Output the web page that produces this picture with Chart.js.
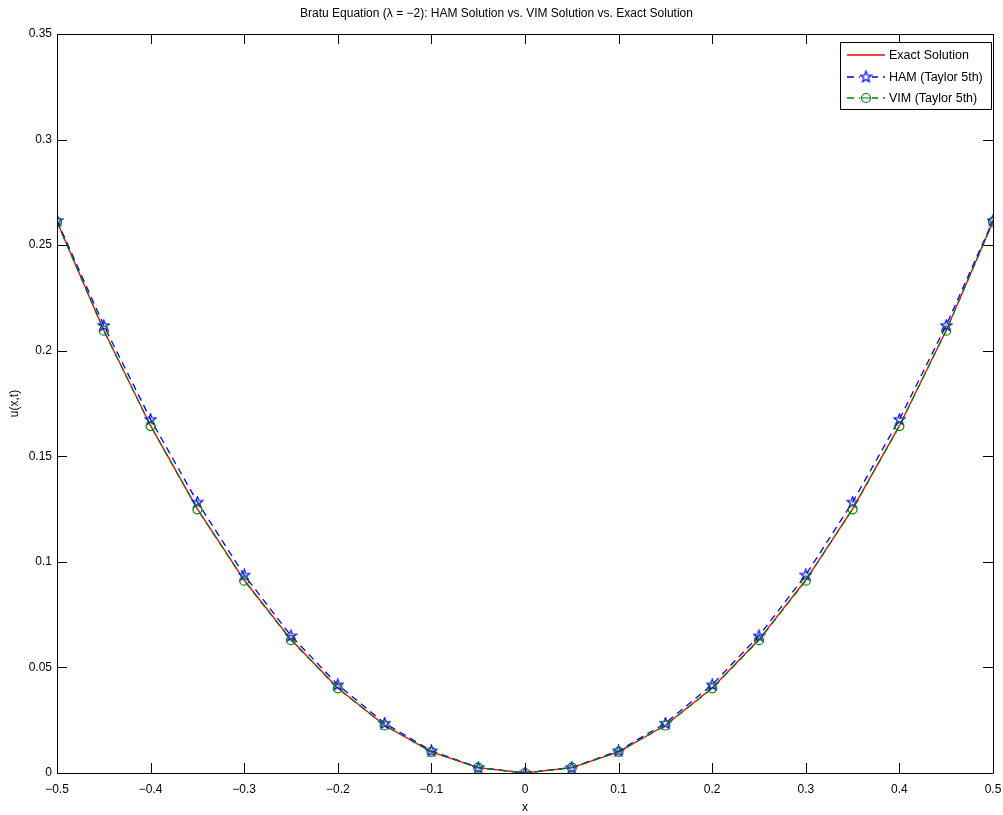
<!DOCTYPE html>
<html>
<head>
<meta charset="utf-8">
<script src="https://cdn.jsdelivr.net/npm/chart.js@4.4.1/dist/chart.umd.min.js"></script>
<style>
  html, body { margin: 0; padding: 0; background: #fff; }
  #wrap { width: 1003px; height: 815px; }
</style>
</head>
<body>
<div id="wrap"><canvas id="myChart" width="1003" height="815"></canvas></div>
<script>
var xs = [-0.5, -0.45, -0.4, -0.35, -0.3, -0.25, -0.2, -0.15, -0.1, -0.05, 0,
          0.05, 0.1, 0.15, 0.2, 0.25, 0.3, 0.35, 0.4, 0.45, 0.5];
var exactU = [0.2612, 0.2097, 0.1645, 0.1251, 0.0914, 0.0632, 0.0403, 0.0226, 0.0100, 0.0025, 0,
              0.0025, 0.0100, 0.0226, 0.0403, 0.0632, 0.0914, 0.1251, 0.1645, 0.2097, 0.2612];
var hamU = [0.2617, 0.2120, 0.1675, 0.1283, 0.0938, 0.0650, 0.0418, 0.0236, 0.0105, 0.0026, 0,
            0.0026, 0.0105, 0.0236, 0.0418, 0.0650, 0.0938, 0.1283, 0.1675, 0.2120, 0.2617];
var vimU = [0.2610, 0.2095, 0.1643, 0.1249, 0.0911, 0.0629, 0.0401, 0.0225, 0.0100, 0.0025, 0,
            0.0025, 0.0100, 0.0225, 0.0401, 0.0629, 0.0911, 0.1249, 0.1643, 0.2095, 0.2610];
var xTicks = [-0.5, -0.4, -0.3, -0.2, -0.1, 0, 0.1, 0.2, 0.3, 0.4, 0.5];
var yTicks = [0, 0.05, 0.1, 0.15, 0.2, 0.25, 0.3, 0.35];
var seriesNames = ['Exact Solution', 'HAM (Taylor 5th)', 'VIM (Taylor 5th)'];
var seriesColors = ['#ff0000', '#0000ff', '#008000'];

var FONT = '"Liberation Sans", Arial, Helvetica, sans-serif';
var LW = 1.3;

// pentagram marker like matlab 'p'
function makeStar(color) {
    var c = document.createElement('canvas');
    c.width = 13; c.height = 13;
    var g = c.getContext('2d');
    g.strokeStyle = color;
    g.lineWidth = 1.2;
    g.beginPath();
    for (var i = 0; i < 10; i++) {
        var r = i % 2 == 0 ? 5.8 : 2.4;
        var a = -Math.PI / 2 + i * Math.PI / 5;
        var px = 6.5 + r * Math.cos(a), py = 6.8 + r * Math.sin(a);
        if (i == 0) g.moveTo(px, py); else g.lineTo(px, py);
    }
    g.closePath();
    g.stroke();
    return c;
}
var starImg = makeStar('#0000ff');

function pts(ys) {
    return xs.map(function (x, i) { return { x: x, y: ys[i] }; });
}

function fmt(v) {
    var s = String(Math.round(v * 100) / 100);
    if (v < 0) s = '\u2212' + s.slice(1);
    return s;
}

var boxPlugin = {
    id: 'box',
    afterDatasetsDraw: function (chart) {
        var ctx = chart.ctx, a = chart.chartArea;
        var xs_ = chart.scales.x, ys_ = chart.scales.y;
        ctx.save();
        ctx.strokeStyle = '#000';
        ctx.lineWidth = 1;
        ctx.setLineDash([]);
        ctx.beginPath();
        ctx.rect(Math.round(a.left) + 0.5, Math.round(a.top) + 0.5,
                 Math.round(a.right - a.left), Math.round(a.bottom - a.top));
        ctx.stroke();
        var tl = 10;
        ctx.beginPath();
        xTicks.forEach(function (t) {
            var px = Math.round(xs_.getPixelForValue(t)) + 0.5;
            ctx.moveTo(px, a.bottom); ctx.lineTo(px, a.bottom - tl);
            ctx.moveTo(px, a.top); ctx.lineTo(px, a.top + tl);
        });
        yTicks.forEach(function (t) {
            var py = Math.round(ys_.getPixelForValue(t)) + 0.5;
            ctx.moveTo(a.left, py); ctx.lineTo(a.left + tl, py);
            ctx.moveTo(a.right, py); ctx.lineTo(a.right - tl, py);
        });
        ctx.stroke();
        ctx.restore();
    },
    afterDraw: function (chart) {
        // legend box in the top right corner
        var ctx = chart.ctx, a = chart.chartArea;
        var bx = Math.round(a.right) - 153, by = Math.round(a.top) + 8, bw = 151, bh = 67;
        ctx.save();
        ctx.setLineDash([]);
        ctx.fillStyle = '#fff';
        ctx.fillRect(bx, by, bw, bh);
        ctx.strokeStyle = '#000';
        ctx.lineWidth = 1;
        ctx.strokeRect(bx + 0.5, by + 0.5, bw, bh);
        ctx.font = '12.5px ' + FONT;
        ctx.textBaseline = 'middle';
        seriesNames.forEach(function (name, i) {
            var cy = Math.round(by + 13 + i * 21.5);
            ctx.strokeStyle = seriesColors[i];
            ctx.lineWidth = 1.6;
            ctx.setLineDash(i == 0 ? [] : [7, 5]);
            ctx.beginPath();
            ctx.moveTo(bx + 7, cy);
            ctx.lineTo(bx + 45, cy);
            ctx.stroke();
            ctx.setLineDash([]);
            if (i == 1) {
                ctx.fillStyle = '#fff';
                ctx.fillRect(bx + 20, cy - 6, 12, 12);
                ctx.drawImage(starImg, bx + 26 - 6.5, cy - 6.8);
            } else if (i == 2) {
                ctx.fillStyle = '#fff';
                ctx.fillRect(bx + 20, cy - 6, 12, 12);
                ctx.lineWidth = 1.2;
                ctx.beginPath();
                ctx.moveTo(bx + 21.5, cy); ctx.lineTo(bx + 30.5, cy);
                ctx.moveTo(bx + 30.5, cy);
                ctx.arc(bx + 26, cy, 4.5, 0, Math.PI * 2);
                ctx.stroke();
            }
            ctx.fillStyle = '#000';
            ctx.fillText(name, bx + 49, cy + 0.5);
        });
        ctx.restore();
    }
};

var ctx = document.getElementById('myChart').getContext('2d');
var chart = new Chart(ctx, {
    type: 'line',
    data: {
        datasets: [{
            label: seriesNames[0],
            data: pts(exactU),
            borderColor: seriesColors[0],
            borderWidth: LW,
            pointRadius: 0,
            order: 2
        }, {
            label: seriesNames[1],
            data: pts(hamU),
            borderColor: seriesColors[1],
            borderWidth: LW,
            borderDash: [7, 5],
            pointStyle: starImg,
            pointRadius: 6,
            order: 1
        }, {
            label: seriesNames[2],
            data: pts(vimU),
            borderColor: seriesColors[2],
            borderWidth: LW,
            borderDash: [7, 5],
            pointStyle: 'circle',
            pointRadius: 4.5,
            pointBackgroundColor: 'rgba(0,0,0,0)',
            pointBorderColor: seriesColors[2],
            pointBorderWidth: 1.2,
            order: 0
        }]
    },
    options: {
        responsive: false,
        animation: false,
        layout: { padding: { left: 0, right: 10, top: 0, bottom: 0 } },
        plugins: {
            legend: { display: false },
            tooltip: { enabled: false },
            title: {
                display: true,
                text: 'Bratu Equation (\u03bb = \u22122): HAM Solution vs. VIM Solution vs. Exact Solution',
                color: '#000',
                font: { family: FONT, size: 12, weight: 'normal' },
                padding: { top: 6, bottom: 13.6 }
            }
        },
        scales: {
            x: {
                type: 'linear',
                min: -0.5,
                max: 0.5,
                afterFit: function (s) { s.height = 42; s.paddingLeft = 0; s.paddingRight = 0; },
                afterBuildTicks: function (s) { s.ticks = xTicks.map(function (v) { return { value: v }; }); },
                grid: { display: false, drawTicks: false },
                border: { display: false },
                ticks: {
                    color: '#000',
                    padding: 9,
                    maxRotation: 0,
                    font: { family: FONT, size: 12 },
                    callback: function (v) { return fmt(v); }
                },
                title: {
                    display: true,
                    text: 'x',
                    color: '#000',
                    font: { family: FONT, size: 12 },
                    padding: { top: 0, bottom: 0 }
                }
            },
            y: {
                type: 'linear',
                min: 0,
                max: 0.35,
                afterFit: function (s) { s.width = 57; s.paddingTop = 0; s.paddingBottom = 0; },
                afterBuildTicks: function (s) { s.ticks = yTicks.map(function (v) { return { value: v }; }); },
                grid: { display: false, drawTicks: false },
                border: { display: false },
                ticks: {
                    color: '#000',
                    padding: 5,
                    font: { family: FONT, size: 12 },
                    callback: function (v) { return fmt(v); }
                },
                title: {
                    display: true,
                    text: 'u(x,t)',
                    color: '#000',
                    font: { family: FONT, size: 12 },
                    padding: { top: 7, bottom: 0 }
                }
            }
        }
    },
    plugins: [boxPlugin]
});
</script>
</body>
</html>
